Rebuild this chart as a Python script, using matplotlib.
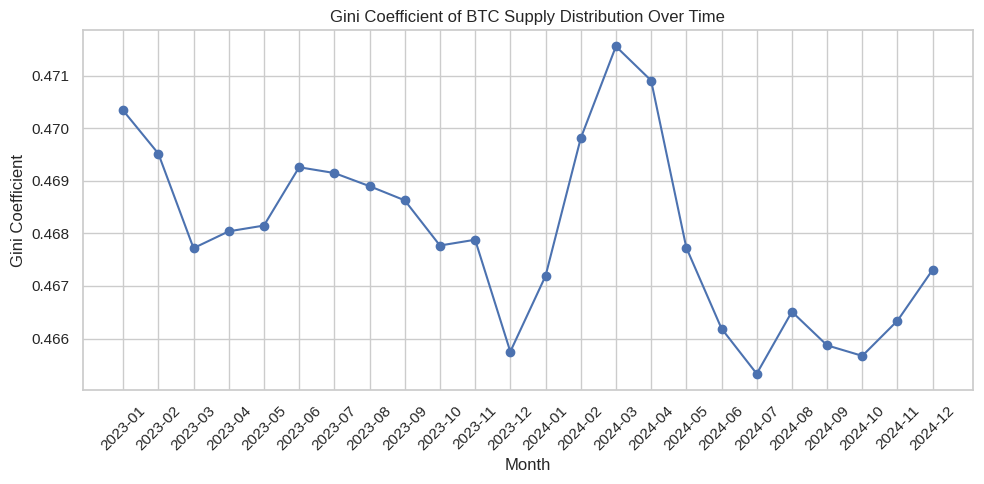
import matplotlib
matplotlib.use("Agg")
import matplotlib.pyplot as plt
import seaborn as sns

months = ["2023-01", "2023-02", "2023-03", "2023-04", "2023-05", "2023-06",
          "2023-07", "2023-08", "2023-09", "2023-10", "2023-11", "2023-12",
          "2024-01", "2024-02", "2024-03", "2024-04", "2024-05", "2024-06",
          "2024-07", "2024-08", "2024-09", "2024-10", "2024-11", "2024-12"]
gini = [0.47034, 0.46952, 0.46772, 0.46804, 0.46815, 0.46926,
        0.46915, 0.46890, 0.46863, 0.46777, 0.46788, 0.46575,
        0.46719, 0.46981, 0.47156, 0.47091, 0.46773, 0.46619,
        0.46533, 0.46651, 0.46587, 0.46567, 0.46634, 0.46731]

sns.set_theme(style="whitegrid")
plt.rcParams["font.family"] = ["Liberation Sans", "DejaVu Sans"]

fig, ax = plt.subplots(figsize=(9.84, 4.84), dpi=100)
ax.plot(months, gini, marker="o")
ax.set_title("Gini Coefficient of BTC Supply Distribution Over Time")
ax.set_xlabel("Month")
ax.set_ylabel("Gini Coefficient")
plt.xticks(rotation=45)
fig.subplots_adjust(left=0.084, right=0.989, top=0.938, bottom=0.194)
plt.savefig("out.png")
